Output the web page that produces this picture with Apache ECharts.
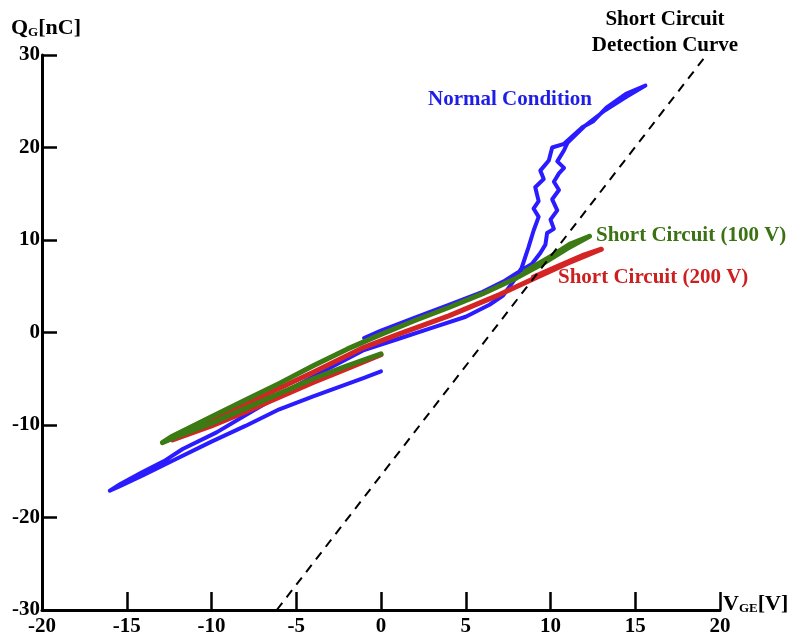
<!DOCTYPE html>
<html>
<head>
<meta charset="utf-8">
<script src="https://cdn.jsdelivr.net/npm/echarts@6/dist/echarts.min.js"></script>
<style>html,body{margin:0;padding:0;background:#fff}#c{width:790px;height:637px}</style>
</head>
<body>
<div id="c"></div>
<script>
// ---- data (VGE [V], QG [nC]) ----
const xTicks = [-20, -15, -10, -5, 0, 5, 10, 15, 20];
const yTicks = [-30, -20, -10, 0, 10, 20, 30];

const normalCondition = [
  [0,-4.2],[-1,-4.9],[-2.5,-5.9],[-4,-6.9],[-6,-8.3],[-8,-10.1],[-10,-11.8],[-12,-13.6],[-14,-15.4],[-15.5,-16.7],[-16,-17.1],
  [-15.4,-16.4],[-14.1,-15.1],[-12.8,-13.9],[-11.7,-12.6],[-9.7,-10.8],[-7.5,-8.4],[-5.25,-6.0],[-3,-3.8],[-1,-1.9],
  [1,-0.7],[3,0.5],[5,1.7],[6.4,3.0],[7.2,4.0],[7.8,5.5],[8.3,7.0],[8.7,9.2],[9.0,11],[9.3,12.5],[9.0,13.4],[9.3,14.2],
  [9.1,15.7],[9.6,16.6],[9.4,17.5],[9.9,18.6],[10.1,20],[10.8,20.4],[11.85,22.15],[12.5,22.8],[13.3,24.3],[14.45,25.8],[15.6,26.7],
  [14.5,25.5],[13.2,24.0],[12,22.3],[11,20.5],[10.8,19.7],[10.4,18.5],[10.8,17.8],[10.5,17.2],[10.2,16.3],[10.5,15.4],
  [10.1,14.4],[10.4,13.2],[10.0,12.2],[10.2,11.2],[9.8,10.75],[9.7,9.5],[9.4,8.6],[8.9,7.4],[8,6.4],[7.3,5.6],
  [6,4.4],[4,3.0],[2,1.6],[0,0.2],[-1,-0.6]
];
const shortCircuit100 = [
  [0,-2.3],[-2,-3.6],[-4,-5.0],[-6,-6.6],[-8,-8.2],[-10,-9.8],[-12,-11.2],[-12.9,-11.9],
  [-12.4,-11.3],[-10,-9.1],[-8,-7.3],[-6,-5.5],[-4,-3.6],[-2,-1.8],[0,-0.2],[2,1.3],[4,2.7],[6,4.2],[8,5.9],[9.5,7.4],[11,9.1],[12.3,10.4],
  [11.2,9.6],[10,8.2],[8.5,6.6]
];
const shortCircuit200 = [
  [0,-2.4],[-2,-3.9],[-4,-5.4],[-6,-7.0],[-8,-8.6],[-10,-10.1],[-12.3,-11.6],
  [-11.6,-10.9],[-10,-9.5],[-7,-6.9],[-4,-4.3],[-1,-1.6],[1,-0.2],[4,1.8],[7,4.1],[9,5.8],[11,7.5],[13,9.0],
  [12,8.4],[10.5,7.2],[9,6.0]
];
const detectionCurve = [[-6.15,-30],[19.2,30]];

const FONT = '"Liberation Serif","Times New Roman",serif';
const chart = echarts.init(document.getElementById('c'));
const lineSeries = (name, data, color, width) => ({
  name, type: 'line', data, showSymbol: false, symbol: 'none', smooth: false,
  lineStyle: { color, width, join: 'round', cap: 'round' }, z: 3, animation: false
});
chart.setOption({
  animation: false,
  grid: { left: 42, right: 70, top: 55, bottom: 24, containLabel: false },
  xAxis: {
    type: 'value', min: -20, max: 20, interval: 5,
    axisLine: { onZero: false, lineStyle: { color: '#000', width: 3 } },
    axisTick: { inside: true, length: 18, lineStyle: { color: '#000', width: 2.5 } },
    axisLabel: { margin: 6, color: '#000', fontFamily: FONT, fontWeight: 'bold', fontSize: 21,
      formatter: v => xTicks.includes(v) ? String(v) : '' },
    splitLine: { show: false }
  },
  yAxis: {
    type: 'value', min: -30, max: 30, interval: 10,
    axisLine: { onZero: false, lineStyle: { color: '#000', width: 3 } },
    axisTick: { inside: true, length: 15, lineStyle: { color: '#000', width: 2.5 } },
    axisLabel: { margin: 2, color: '#000', fontFamily: FONT, fontWeight: 'bold', fontSize: 21,
      formatter: v => yTicks.includes(v) ? String(v) : '' },
    splitLine: { show: false }
  },
  series: [
    lineSeries('Normal Condition', normalCondition, '#2a1cff', 4),
    lineSeries('Short Circuit (200 V)', shortCircuit200, '#d42424', 5),
    lineSeries('Short Circuit (100 V)', shortCircuit100, '#3c7a14', 5),
    { name: 'Short Circuit Detection Curve', type: 'line', data: detectionCurve, showSymbol: false, symbol: 'none',
      lineStyle: { color: '#000', width: 2, type: [9, 7] }, z: 4 }
  ],
  graphic: [
    { type: 'text', left: 11, top: 17, style: { text: '{a|Q}{b|G}{a|[nC]}', rich: {
        a: { fontFamily: FONT, fontWeight: 'bold', fontSize: 22, fill: '#000' },
        b: { fontFamily: FONT, fontWeight: 'bold', fontSize: 13, fill: '#000', verticalAlign: 'bottom', padding: [8,0,0,0] } } } },
    { type: 'text', left: 723, top: 593, style: { text: '{a|V}{b|GE}{a|[V]}', rich: {
        a: { fontFamily: FONT, fontWeight: 'bold', fontSize: 22, fill: '#000' },
        b: { fontFamily: FONT, fontWeight: 'bold', fontSize: 13, fill: '#000', verticalAlign: 'bottom', padding: [8,0,0,0] } } } },
    { type: 'text', x: 665, y: 7, style: { text: 'Short Circuit\nDetection Curve', align: 'center', lineHeight: 26,
        font: 'bold 21px ' + FONT, fill: '#000' } },
    { type: 'text', x: 428, y: 89, style: { text: 'Normal Condition', font: 'bold 21px ' + FONT, fill: '#1e1ee8' } },
    { type: 'text', x: 596, y: 225, style: { text: 'Short Circuit (100 V)', font: 'bold 21px ' + FONT, fill: '#3c7214' } },
    { type: 'text', x: 558, y: 267, style: { text: 'Short Circuit (200 V)', font: 'bold 21px ' + FONT, fill: '#cc1f1f' } }
  ]
});
</script>
</body>
</html>
